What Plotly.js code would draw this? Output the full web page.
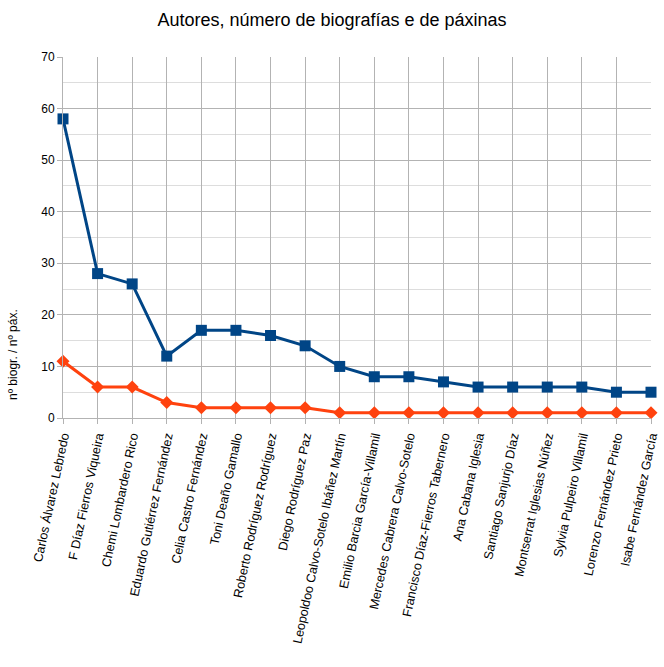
<!DOCTYPE html>
<html>
<head>
<meta charset="utf-8">
<script src="https://cdn.plot.ly/plotly-3.0.1.min.js"></script>
<style>html,body{margin:0;padding:0;background:#fff;}</style>
</head>
<body>
<div id="chart" style="width:664px;height:667px;"></div>
<script>
const authors = ["Carlos Álvarez Lebredo","F Díaz Fierros Viqueira","Chemi Lombardero Rico","Eduardo Gutiérrez Fernández","Celia Castro Fernández","Toni Deaño Gamallo","Roberto Rodríguez Rodríguez","Diego Rodríguez Paz","Leopoldoo Calvo-Sotelo Ibáñez Martín","Emilio Barcia García-Villamil","Mercedes Cabrera Calvo-Sotelo","Francisco Díaz-Fierros Tabernero","Ana Cabana Iglesia","Santiago Sanjurjo Díaz","Montserrat Iglesias Núñez","Sylvia Pulpeiro Villamil","Lorenzo Fernández Prieto","Isabe Fernández García"];
const biografias = [58,28,26,12,17,17,16,14,10,8,8,7,6,6,6,6,5,5];
const paxinas = [11,6,6,3,2,2,2,2,1,1,1,1,1,1,1,1,1,1];
const yTicks = [0,10,20,30,40,50,60,70];
const yTitle = 'nº biogr. / nº páx.';

const traces = [
  {x: authors, y: biografias, type:'scatter', mode:'lines+markers', name:'nº biogr.',
   line:{color:'#004586', width:3}, marker:{symbol:'square', size:11, color:'#004586'}, cliponaxis:false},
  {x: authors, y: paxinas, type:'scatter', mode:'lines+markers', name:'nº páx.',
   line:{color:'#ff420e', width:3}, marker:{symbol:'diamond', size:10, color:'#ff420e'}, cliponaxis:false}
];
const layout = {
  width:664, height:667,
  margin:{l:63, r:13, t:57, b:249},
  showlegend:false,
  paper_bgcolor:'#fff', plot_bgcolor:'#fff',
  font:{family:'Liberation Sans, Arial, sans-serif', color:'#000'},
  title:{text:'Autores, número de biografías e de páxinas', font:{size:18}, x:0.5, xanchor:'center', y:0.97, yanchor:'middle'},
  xaxis:{type:'category', range:[0,17], showgrid:true, gridcolor:'#b3b3b3', gridwidth:1,
    ticks:'outside', ticklen:5, tickcolor:'#b3b3b3', tickangle:-78, tickfont:{size:12.6},
    showline:true, linecolor:'#b3b3b3', zeroline:false},
  yaxis:{range:[0,70], tickvals:yTicks, showgrid:true, gridcolor:'#b3b3b3', gridwidth:1,
    ticks:'outside', ticklen:5, tickcolor:'#b3b3b3', tickfont:{size:12},
    showline:true, linecolor:'#b3b3b3', zeroline:false,
    minor:{dtick:5, showgrid:true, gridcolor:'#dddddd', ticks:''}},
  annotations:[{text:yTitle, xref:'paper', yref:'paper', x:-0.085, y:0.1745,
    xanchor:'center', yanchor:'middle', textangle:-90, showarrow:false, font:{size:12}}]
};
Plotly.newPlot('chart', traces, layout, {displayModeBar:false, staticPlot:true});
</script>
</body>
</html>
